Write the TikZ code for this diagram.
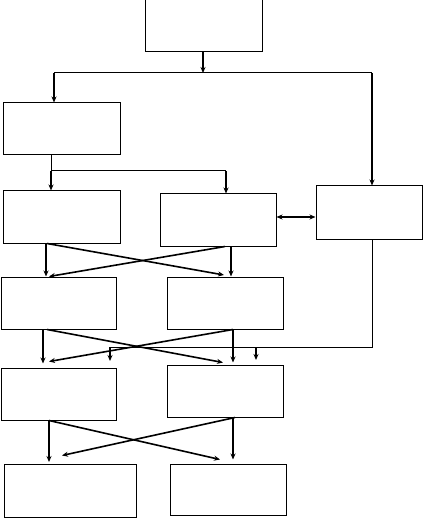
\documentclass[tikz,border=0pt]{standalone}
\usetikzlibrary{arrows.meta,calc}
\begin{document}
\begin{tikzpicture}[x=1pt,y=-1pt,
  box/.style={draw,line width=1pt,inner sep=0pt,minimum width=116pt,minimum height=52pt},
  link/.style={line width=1pt},
  arr/.style={line width=1.6pt,-{Stealth[length=6pt,width=5pt]}},
  darr/.style={line width=1.6pt,{Stealth[length=6pt,width=5pt]}-{Stealth[length=6pt,width=5pt]}}]
\useasboundingbox (0,0) rectangle (424,518);
% boxes
\node[box,minimum width=117pt] (top) at (203.5,26) {};
\node[box,minimum width=117pt] (A) at (61.5,129) {};
\node[box,minimum width=117pt] (B1) at (61.5,217) {};
\node[box] (B2) at (218,220) {};
\node[box,minimum width=106pt,minimum height=53pt] (R) at (369,212.5) {};
\node[box,minimum width=115pt] (C1) at (58.5,303) {};
\node[box] (C2) at (225,303) {};
\node[box,minimum width=115pt] (D1) at (58.5,394) {};
\node[box] (D2) at (225,391) {};
\node[box,minimum width=132pt,minimum height=53pt] (E1) at (70,490.5) {};
\node[box,minimum height=51pt] (E2) at (228,489.5) {};
% junction points
\coordinate (j1) at (203,73);
\coordinate (jl) at (54,73);
\coordinate (jr) at (372,73);
\coordinate (j2) at (51,171);
\coordinate (j3) at (226,171);
\coordinate (j4) at (372,347);
\coordinate (j5) at (110,347);
\coordinate (j6) at (256,347);
\coordinate (e5) at (110,361);
\coordinate (e6) at (256,360);
% top fan-out
\draw[arr] (top.south -| j1) -- (j1);
\draw[link] (jl) -- (jr);
\draw[arr] (jl) -- (A.north -| jl);
\draw[arr] (jr) -- (R.north -| jr);
% A fan-out
\draw[link] (A.south -| j2) -- (j2) -- (j3);
\draw[arr] (j2) -- (B1.north -| j2);
\draw[arr] (j3) -- (B2.north -| j3);
% B2 <-> R
\draw[darr] (B2.east |- 0,217) -- (R.west |- 0,217);
% B -> C
\draw[arr] (B1.south -| 46,0) -- (C1.north -| 46,0);
\draw[arr] (B1.south -| 47,0) -- ($(C2.north -| 224,0)+(0,-1.5)$);
\draw[arr] (B2.south -| 231,0) -- (C2.north -| 231,0);
\draw[arr] (B2.south -| 225,0) -- (C1.north -| 49,0);
% R down to D row
\draw[link] (R.south -| j4) -- (j4) -- (j5);
\draw[arr] (j5) -- (e5);
\draw[arr] (j6) -- (e6);
% C -> D
\draw[arr,shorten >=4pt] (C1.south -| 43,0) -- (D1.north -| 43,0);
\draw[arr] (C1.south -| 47,0) -- ($(D2.north -| 223,0)+(0,-2)$);
\draw[arr] (C2.south -| 233,0) -- ($(D2.north -| 233,0)+(0,-2)$);
\draw[arr] (C2.south -| 233,0) -- ($(D1.north -| 49,0)+(0,-6)$);
% D -> E
\draw[arr] (D1.south -| 49,0) -- ($(E1.north -| 49,0)+(0,-1.5)$);
\draw[arr] (D1.south -| 49,0) -- ($(E2.north -| 220,0)+(0,-4)$);
\draw[arr] (D2.south -| 233,0) -- ($(E2.north -| 233,0)+(0,-4)$);
\draw[arr] (D2.south -| 235,0) -- ($(E1.north -| 62,0)+(0,-8)$);
\end{tikzpicture}
\end{document}
